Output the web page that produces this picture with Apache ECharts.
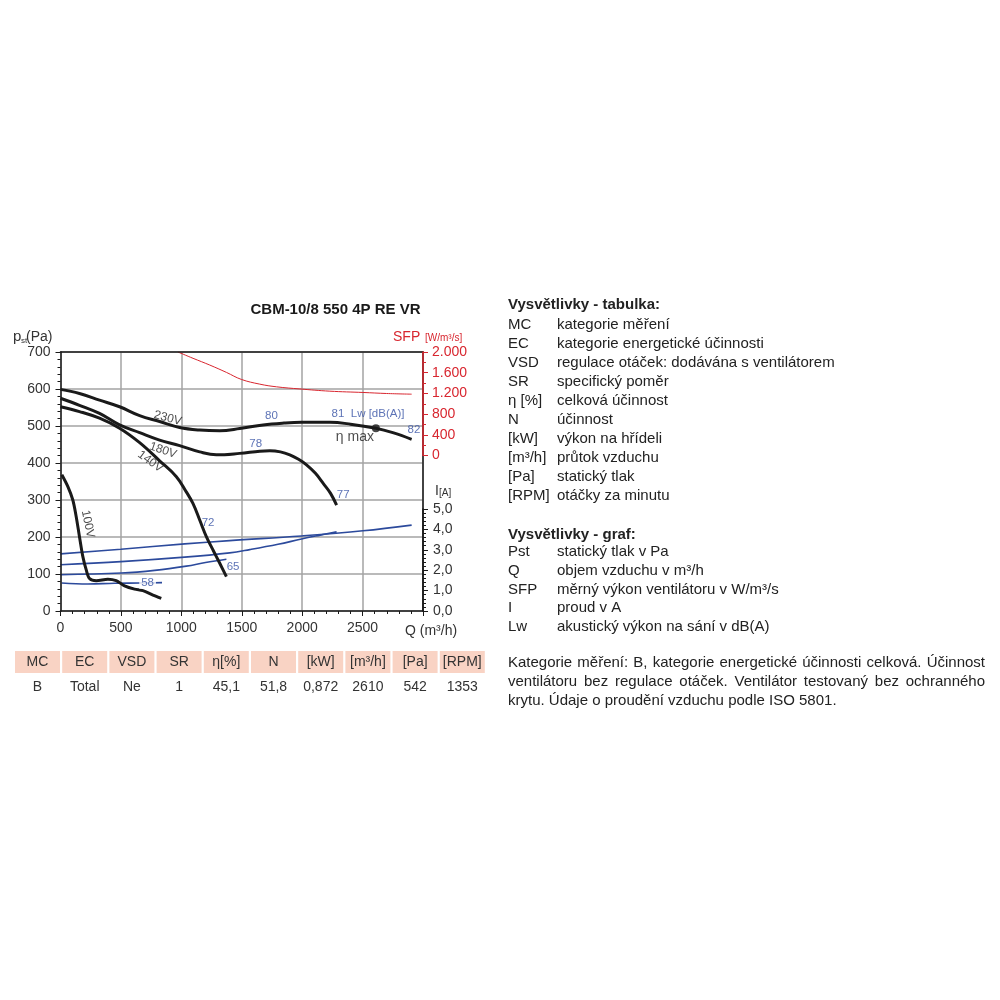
<!DOCTYPE html>
<html><head><meta charset="utf-8">
<script src="https://cdn.jsdelivr.net/npm/echarts@6/dist/echarts.min.js"></script>
<style>html,body{margin:0;padding:0;background:#fff}#c{width:1000px;height:1000px}</style>
</head><body><div id="c"></div>
<script>
const FONT = '"Liberation Sans", Arial, Helvetica, sans-serif';

// ---- data: static pressure curves [Q m3/h, Pa] ----
const curve230 = [[0,599],[157,588],[323,570],[489,552],[655,528],[820,512],[986,496],[1152,489],[1318,487],[1483,493],[1677,503],[1850,508],[1995,510],[2229,510],[2400,505],[2610,494],[2750,482],[2906,464]];
const curve180 = [[0,575],[157,556],[323,534],[489,503],[655,482],[820,462],[986,447],[1152,430],[1290,422],[1483,426],[1650,432],[1732,433],[1820,430],[1898,422],[1970,410],[2036,395],[2110,372],[2174,345],[2235,318],[2285,286]];
const curve140 = [[0,552],[157,539],[323,521],[489,494],[655,455],[820,406],[959,363],[1041,322],[1096,291],[1152,246],[1207,201],[1262,165],[1318,129],[1373,93]];
const curve100 = [[11,368],[61,336],[102,300],[130,255],[157,201],[185,147],[213,111],[240,88],[296,82],[392,86],[461,82],[530,68],[613,59],[682,55],[765,43],[834,34]];
// ---- current curves [Q, A] ----
const current230 = [[0,2.8],[500,3.03],[1028,3.29],[1400,3.45],[1995,3.68],[2503,3.93],[2906,4.21]];
const current180 = [[0,2.27],[500,2.42],[1028,2.64],[1400,2.85],[1566,3.01],[1800,3.27],[1995,3.53],[2150,3.72],[2285,3.88]];
const current140 = [[0,1.78],[503,1.86],[779,1.99],[1041,2.2],[1200,2.38],[1373,2.54]];
const current100 = [[10,1.37],[226,1.32],[447,1.36],[655,1.37],[840,1.39]];
// ---- SFP curve [Q, W/m3/s] ----
const sfpCurve = [[972,2000],[1097,1878],[1235,1748],[1373,1606],[1497,1470],[1649,1379],[1788,1327],[1981,1286],[2229,1243],[2503,1218],[2699,1198],[2906,1185]];
// ---- eta max point ----
const etaMax = [[2610,494]];
// ---- annotations: text, [Q, Pa], rotation ----
const voltLabels = [['230V',[887,521],-15],['180V',[848,434],-19],['140V',[743,404],-36],['100V',[226,235],-78]];
const lwLabels = [['80',[1746,527]],['81  Lw [dB(A)]',[2545,532]],['82',[2925,489]],['78',[1616,453]],['77',[2340,313]],['72',[1221,237]],['65',[1428,120]],['58',[721,76]]];
// ---- axes ----
const qMax = 3000, qInterval = 500;
const paMax = 700, paInterval = 100;
const sfpMax = 2000, sfpInterval = 400;
const iMax = 5, iInterval = 1;
// ---- table ----
const tableHeaders = ['MC','EC','VSD','SR','η[%]','N','[kW]','[m³/h]','[Pa]','[RPM]'];
const tableValues = ['B','Total','Ne','1','45,1','51,8','0,872','2610','542','1353'];
// ---- legends ----
const legendTable = [['MC','kategorie měření'],['EC','kategorie energetické účinnosti'],['VSD','regulace otáček: dodávána s ventilátorem'],['SR','specifický poměr'],['η [%]','celková účinnost'],['N','účinnost'],['[kW]','výkon na hřídeli'],['[m³/h]','průtok vzduchu'],['[Pa]','statický tlak'],['[RPM]','otáčky za minutu']];
const legendGraph = [['Pst','statický tlak v Pa'],['Q','objem vzduchu v m³/h'],['SFP','měrný výkon ventilátoru v W/m³/s'],['I','proud v A'],['Lw','akustický výkon na sání v dB(A)']];
const noteLines = ['Kategorie měření: B, kategorie energetické účinnosti celková. Účinnost','ventilátoru bez regulace otáček. Ventilátor testovaný bez ochranného','krytu. Údaje o proudění vzduchu podle ISO 5801.'];

const BLACK = '#1a1a1a', GRIDC = '#a3a3a3', BLUE = '#2c4a9c', LBLUE = '#3450a4', RED = '#d8262f', TXT = '#222';
const G = {left: 60.5, right: 577};

const chart = echarts.init(document.getElementById('c'));

function hiddenX(gi){return {type:'value',gridIndex:gi,min:0,max:qMax,show:false};}

const graphics = [];
function txt(x,y,text,size,opts){
  graphics.push({type:'text',x:x,y:y,z:10,style:Object.assign({text:text,font:(opts&&opts.bold?'bold ':'')+size+'px '+FONT,fill:TXT,textVerticalAlign:'middle',textAlign:'left'},opts&&opts.style||{})});
}
const measureCtx = document.createElement('canvas').getContext('2d');
function justified(x,y,text,size,width){
  const font = size+'px '+FONT;
  measureCtx.font = font;
  const words = text.split(' ');
  const ws = words.map(w=>measureCtx.measureText(w).width);
  const total = ws.reduce((a,b)=>a+b,0);
  const gap = (width-total)/(words.length-1);
  let cx = x;
  words.forEach((w,i)=>{txt(cx,y,w,size);cx += ws[i]+gap;});
}
// title
txt(335.5,310,'CBM-10/8 550 4P RE VR',15,{bold:true,style:{textAlign:'center',fill:'#1a1a1a'}});
// axis names
txt(13,337,'p',15,{style:{fill:'#333'}});
txt(21,341,'st',8,{style:{fill:'#333'}});
txt(26,337,'(Pa)',14,{style:{fill:'#333'}});
txt(393,337,'SFP',14,{style:{fill:RED}});
txt(425,338,'[W/m³/s]',10,{style:{fill:RED}});
txt(435,491,'I',14,{style:{fill:'#333'}});
txt(439,493,'[A]',10,{style:{fill:'#333'}});
txt(405,631,'Q (m³/h)',14,{style:{fill:'#333'}});
// table
tableHeaders.forEach((h,i)=>{
  const x = 15 + i*47.2;
  graphics.push({type:'rect',x:x,y:651,z:5,shape:{width:45,height:22},style:{fill:'#f9d3c4'}});
  txt(x+22.5,662.5,h,14,{style:{textAlign:'center',fill:'#333'}});
  txt(x+22.5,687.5,tableValues[i],14,{style:{textAlign:'center',fill:'#333'}});
});
// legends
txt(508,305,'Vysvětlivky - tabulka:',15,{bold:true});
legendTable.forEach((r,i)=>{txt(508,325+i*19,r[0],15);txt(557,325+i*19,r[1],15);});
txt(508,535,'Vysvětlivky - graf:',15,{bold:true});
legendGraph.forEach((r,i)=>{txt(508,552+i*18.7,r[0],15);txt(557,552+i*18.7,r[1],15);});
justified(508,663,noteLines[0],15,477);
justified(508,682,noteLines[1],15,477);
txt(508,701,noteLines[2],15);

function lineSeries(data,color,width,xi,yi,smooth,z){
  return {type:'line',data:data,xAxisIndex:xi,yAxisIndex:yi,symbol:'none',smooth:smooth,z:z||3,
    lineStyle:{color:color,width:width},silent:true};
}
function labelSeries(items,color,size,bg){
  return {type:'scatter',xAxisIndex:0,yAxisIndex:0,symbolSize:1,z:6,silent:true,
    itemStyle:{color:'rgba(0,0,0,0)'},
    data:items.map(it=>({name:it[0],value:it[1],label:{rotate:it[2]||0}})),
    label:{show:true,position:'inside',formatter:p=>p.name,color:color,fontSize:size,fontFamily:FONT,
      backgroundColor:bg||'transparent',padding:bg?[0,2]:0}};
}

const option = {
  animation:false,
  backgroundColor:'#fff',
  grid:[
    {left:G.left,right:G.right,top:352,bottom:389},
    {left:G.left,right:G.right,top:352,height:103.5},
    {left:G.left,right:G.right,top:509,bottom:389}
  ],
  xAxis:[
    {type:'value',gridIndex:0,min:0,max:qMax,interval:qInterval,z:5,position:'bottom',
      axisLine:{show:true,onZero:false,lineStyle:{color:BLACK,width:1.5}},
      axisTick:{show:true,length:5,lineStyle:{color:BLACK,width:1}},
      minorTick:{show:true,splitNumber:5,length:3,lineStyle:{color:BLACK,width:1}},
      axisLabel:{color:'#333',fontSize:14,fontFamily:FONT,margin:10,formatter:v=>v===qMax?'':String(v)},
      splitLine:{show:false}},
    {type:'value',gridIndex:0,min:0,max:qMax,position:'top',z:5,
      axisLine:{show:true,onZero:false,lineStyle:{color:BLACK,width:1.5}},
      axisTick:{show:false},axisLabel:{show:false},splitLine:{show:false}},
    {type:'value',gridIndex:0,min:0,max:qMax,interval:qInterval,position:'bottom',z:0,
      axisLine:{show:false},axisTick:{show:false},axisLabel:{show:false},
      splitLine:{show:true,lineStyle:{color:GRIDC,width:1.5}}},
    hiddenX(1),hiddenX(2)
  ],
  yAxis:[
    {type:'value',gridIndex:0,min:0,max:paMax,interval:paInterval,position:'left',z:5,
      axisLine:{show:true,onZero:false,lineStyle:{color:BLACK,width:1.5}},
      axisTick:{show:true,length:5,lineStyle:{color:BLACK,width:1}},
      minorTick:{show:true,splitNumber:5,length:3,lineStyle:{color:BLACK,width:1}},
      axisLabel:{color:'#333',fontSize:14,fontFamily:FONT,margin:10},
      splitLine:{show:false}},
    {type:'value',gridIndex:0,min:0,max:paMax,position:'right',z:5,
      axisLine:{show:true,onZero:false,lineStyle:{color:BLACK,width:1.5}},
      axisTick:{show:false},axisLabel:{show:false},splitLine:{show:false}},
    {type:'value',gridIndex:0,min:0,max:paMax,interval:paInterval,position:'left',z:0,
      axisLine:{show:false},axisTick:{show:false},axisLabel:{show:false},
      splitLine:{show:true,lineStyle:{color:GRIDC,width:1.5}}},
    {type:'value',gridIndex:1,min:0,max:sfpMax,interval:sfpInterval,position:'right',z:6,
      axisLine:{show:true,onZero:false,lineStyle:{color:RED,width:1.5}},
      axisTick:{show:true,length:5,lineStyle:{color:RED,width:1}},
      minorTick:{show:true,splitNumber:2,length:3,lineStyle:{color:RED,width:1}},
      axisLabel:{color:RED,fontSize:14,fontFamily:FONT,margin:9,
        formatter:v=>v>=1000?Math.floor(v/1000)+'.'+String(v%1000).padStart(3,'0'):String(v)},
      splitLine:{show:false}},
    {type:'value',gridIndex:2,min:0,max:iMax,interval:iInterval,position:'right',z:6,
      axisLine:{show:true,onZero:false,lineStyle:{color:BLACK,width:1.5}},
      axisTick:{show:true,length:5,lineStyle:{color:BLACK,width:1}},
      minorTick:{show:true,splitNumber:5,length:3,lineStyle:{color:BLACK,width:1}},
      axisLabel:{color:'#333',fontSize:14,fontFamily:FONT,margin:10,formatter:v=>v.toFixed(1).replace('.',',')},
      splitLine:{show:false}}
  ],
  series:[
    lineSeries(sfpCurve,RED,1,3,3,0.4),
    lineSeries(current230,BLUE,1.6,4,4,0.4),
    lineSeries(current180,BLUE,1.6,4,4,0.4),
    lineSeries(current140,BLUE,1.6,4,4,0.4),
    lineSeries(current100,BLUE,1.6,4,4,0.4),
    lineSeries(curve230,BLACK,3,0,0,0.4,4),
    lineSeries(curve180,BLACK,3,0,0,0.4,4),
    lineSeries(curve140,BLACK,3,0,0,0.4,4),
    lineSeries(curve100,BLACK,3,0,0,0.3,4),
    {type:'scatter',xAxisIndex:0,yAxisIndex:0,data:etaMax,symbolSize:8,z:5,itemStyle:{color:BLACK},silent:true},
    labelSeries(voltLabels,'#222',12),
    labelSeries(lwLabels.filter(l=>l[0]!=='58'),LBLUE,11.5),
    labelSeries(lwLabels.filter(l=>l[0]==='58'),LBLUE,11.5,'#fff'),
    labelSeries([['η max',[2436,470]]],'#222',14)
  ],
  graphic:graphics
};
chart.setOption(option);
</script>
</body></html>
